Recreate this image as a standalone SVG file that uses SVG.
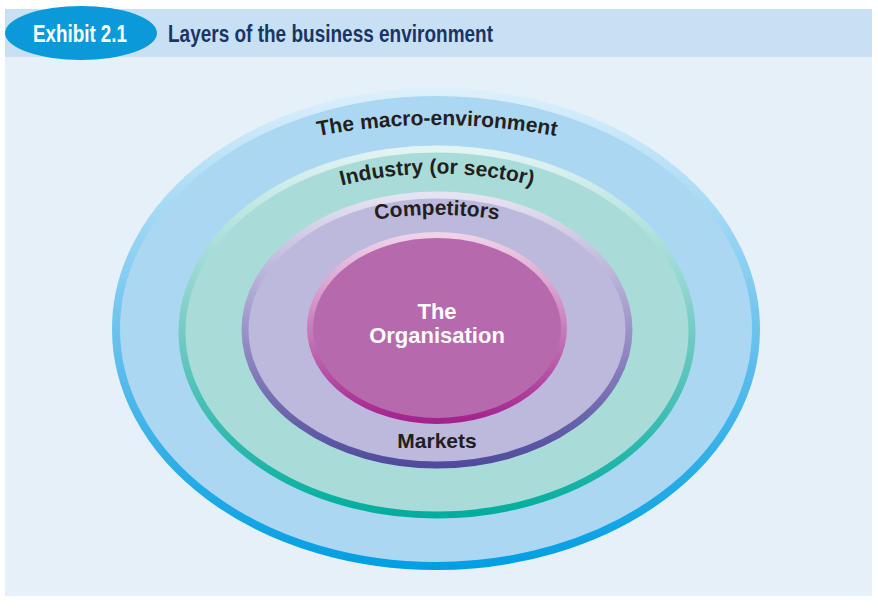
<svg xmlns="http://www.w3.org/2000/svg" width="878" height="611" viewBox="0 0 878 611">
<style>
.lbl{font-family:"Liberation Sans",Arial,sans-serif;font-weight:bold;font-size:21px;fill:#231f20;}
.org{font-family:"Liberation Sans",Arial,sans-serif;font-weight:bold;font-size:22px;fill:#ffffff;text-anchor:middle;}
.hdr{font-family:"Liberation Sans",Arial,sans-serif;font-weight:bold;font-size:23px;}
</style>
<defs>
<linearGradient id="gMacro" x1="0" y1="0" x2="0" y2="1">
<stop offset="0" stop-color="#dceffb"/><stop offset="0.5" stop-color="#6cc3ee"/><stop offset="1" stop-color="#009fe3"/>
</linearGradient>
<linearGradient id="gInd" x1="0" y1="0" x2="0" y2="1">
<stop offset="0" stop-color="#e3f4f3"/><stop offset="0.5" stop-color="#74cbc3"/><stop offset="1" stop-color="#00ae9e"/>
</linearGradient>
<linearGradient id="gComp" x1="0" y1="0" x2="0" y2="1">
<stop offset="0" stop-color="#e6e4f2"/><stop offset="0.5" stop-color="#9b93c8"/><stop offset="1" stop-color="#4f4a9c"/>
</linearGradient>
<linearGradient id="gOrg" x1="0" y1="0" x2="0" y2="1">
<stop offset="0" stop-color="#efd3e8"/><stop offset="0.5" stop-color="#c77dbb"/><stop offset="1" stop-color="#a3228e"/>
</linearGradient>
<path id="pMacro" d="M 237 157 A 640 640 0 0 1 637 157"/>
<path id="pInd" d="M 287 204 A 385 385 0 0 1 587 204"/>
<path id="pComp" d="M 317 234 A 385 385 0 0 1 557 234"/>
</defs>
<rect x="5" y="57" width="867" height="539" fill="#e6f0f8"/>
<rect x="5" y="9" width="867" height="48" fill="#c7e0f3"/>
<g id="badge">
<ellipse cx="81" cy="33" rx="76" ry="27" fill="#0a9ad9"/>
<text class="hdr" x="33" y="42" fill="#ffffff" textLength="94" lengthAdjust="spacingAndGlyphs">Exhibit 2.1</text>
</g>
<g id="title">
<text class="hdr" x="168" y="42" fill="#1b3466" textLength="325" lengthAdjust="spacingAndGlyphs">Layers of the business environment</text>
</g>
<g id="macro">
<ellipse cx="436" cy="329" rx="320" ry="237" fill="#acd7f3" stroke="url(#gMacro)" stroke-width="8"/>
<text class="lbl"><textPath href="#pMacro" startOffset="50%" text-anchor="middle">The macro-environment</textPath></text>
</g>
<g id="industry">
<ellipse cx="437" cy="332" rx="255" ry="183" fill="#a9dcd8" stroke="url(#gInd)" stroke-width="7"/>
<text class="lbl"><textPath href="#pInd" startOffset="50%" text-anchor="middle">Industry (or sector)</textPath></text>
</g>
<g id="competitors">
<ellipse cx="437" cy="330" rx="192" ry="135" fill="#bdb9dc" stroke="url(#gComp)" stroke-width="7"/>
<text class="lbl"><textPath href="#pComp" startOffset="50%" text-anchor="middle">Competitors</textPath></text>
<text class="lbl" x="437" y="448" text-anchor="middle">Markets</text>
</g>
<g id="organisation">
<ellipse cx="437" cy="328" rx="127" ry="93" fill="#b769ad" stroke="url(#gOrg)" stroke-width="6"/>
<text class="org" x="437" y="319">The</text>
<text class="org" x="437" y="343">Organisation</text>
</g>
</svg>
